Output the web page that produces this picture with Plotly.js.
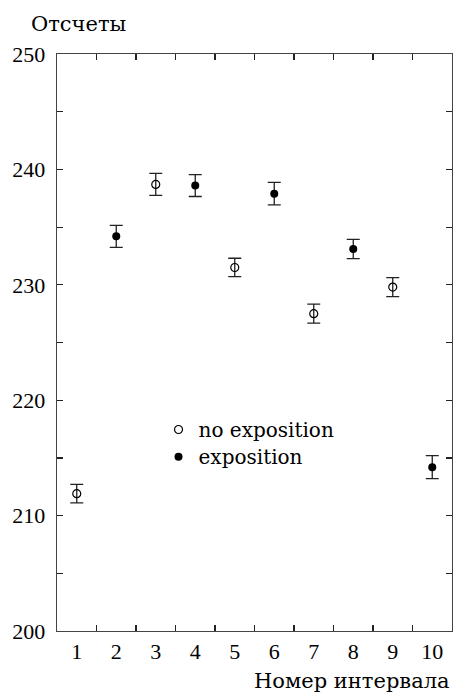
<!DOCTYPE html>
<html>
<head>
<meta charset="utf-8">
<script src="https://cdn.plot.ly/plotly-3.0.1.min.js"></script>
<style>
html,body{margin:0;padding:0;background:#fff;}
#chart{width:454px;height:693px;}
</style>
</head>
<body>
<div id="chart"></div>
<script>
const openX = [1, 3, 5, 7, 9];
const openY = [211.9, 238.7, 231.5, 227.5, 229.8];
const openErr = [0.8, 0.95, 0.8, 0.82, 0.82];
const filledX = [2, 4, 6, 8, 10];
const filledY = [234.2, 238.6, 237.9, 233.1, 214.2];
const filledErr = [0.95, 0.95, 0.97, 0.84, 1.0];
const xTickVals = [1, 2, 3, 4, 5, 6, 7, 8, 9, 10];
const xMinorVals = [1.5, 2.5, 3.5, 4.5, 5.5, 6.5, 7.5, 8.5, 9.5];
const seriesNames = ['no exposition', 'exposition'];
const yTitle = 'Отсчеты';
const xTitle = 'Номер интервала';

const TICKFONT = 'Times New Roman, serif';
const TEXTFONT = 'DejaVu Serif';
const errStyle = {type: 'data', visible: true, color: '#222', thickness: 1.3, width: 6.5};

const traces = [
  {x: openX, y: openY, name: seriesNames[0], type: 'scatter', mode: 'markers', legend: 'legend',
   marker: {symbol: 'circle-open', size: 8, color: '#000', line: {width: 1.2, color: '#000'}},
   error_y: Object.assign({array: openErr}, errStyle)},
  {x: filledX, y: filledY, name: seriesNames[1], type: 'scatter', mode: 'markers', legend: 'legend2',
   marker: {symbol: 'circle', size: 8, color: '#000'},
   error_y: Object.assign({array: filledErr}, errStyle)}
];

const legendFont = {family: TEXTFONT, size: 20, color: '#000'};
const layout = {
  width: 454, height: 693,
  margin: {l: 57, r: 2, t: 54, b: 62},
  paper_bgcolor: '#fff', plot_bgcolor: '#fff',
  showlegend: true,
  legend: {x: 0.257, y: 0.383, xanchor: 'left', yanchor: 'top', bgcolor: 'rgba(0,0,0,0)',
           font: legendFont, itemwidth: 30},
  legend2: {x: 0.257, y: 0.336, xanchor: 'left', yanchor: 'top', bgcolor: 'rgba(0,0,0,0)',
           font: legendFont, itemwidth: 30},
  xaxis: {range: [0.5, 10.5], tickvals: xTickVals, ticks: '', showgrid: false, zeroline: false,
          showline: true, linecolor: '#444', linewidth: 1.3, mirror: 'ticks',
          tickfont: {family: TICKFONT, size: 22, color: '#000'},
          minor: {tickvals: xMinorVals, ticks: 'inside', ticklen: 6, tickwidth: 1.2, tickcolor: '#222', showgrid: false}},
  yaxis: {range: [200, 250], dtick: 10, tick0: 200, ticks: 'inside', ticklen: 6, tickwidth: 1.2, tickcolor: '#222',
          showgrid: false, zeroline: false, showline: true, linecolor: '#444', linewidth: 1.3, mirror: 'ticks',
          ticklabelstandoff: 6,
          tickfont: {family: TICKFONT, size: 22, color: '#000'},
          minor: {dtick: 5, ticks: 'inside', ticklen: 6, tickwidth: 1.2, tickcolor: '#222', showgrid: false}},
  annotations: [
    {text: yTitle, xref: 'paper', yref: 'paper', x: -0.07, y: 1.052, xanchor: 'left', yanchor: 'middle',
     showarrow: false, font: {family: TEXTFONT, size: 21, color: '#000'}},
    {text: xTitle, xref: 'paper', yref: 'paper', x: 1.0, y: -0.0867, xanchor: 'right', yanchor: 'middle',
     showarrow: false, font: {family: TEXTFONT, size: 21, color: '#000'}}
  ]
};

Plotly.newPlot('chart', traces, layout, {displayModeBar: false, staticPlot: true});
</script>
</body>
</html>
